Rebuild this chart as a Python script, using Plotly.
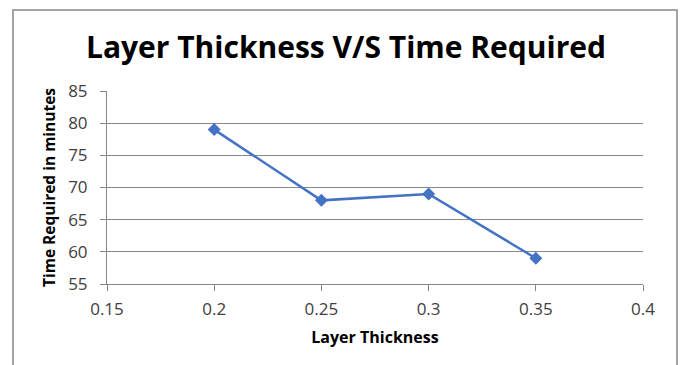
import plotly.graph_objects as go

thickness = [0.2, 0.25, 0.3, 0.35]
time_required = [79, 68, 69, 59]
x_ticks = [0.15, 0.2, 0.25, 0.3, 0.35, 0.4]
x_tick_labels = ["0.15", "0.2", "0.25", "0.3", "0.35", "0.4"]
y_ticks = [55, 60, 65, 70, 75, 80, 85]

W, H = 686, 365
L, R, T, B = 107, 43, 91, 81
pw, ph = W - L - R, H - T - B

fig = go.Figure()
fig.add_trace(go.Scatter(
    x=thickness, y=time_required, mode="lines+markers",
    line=dict(color="#4472C4", width=2.5),
    marker=dict(symbol="diamond", size=10, color="#4472C4"),
    showlegend=False,
))

def px_x(p):
    return (p - L) / pw

def px_y(p):
    return (H - B - p) / ph

fig.add_shape(type="rect", xref="paper", yref="paper",
              x0=px_x(13), x1=px_x(677), y0=px_y(375), y1=px_y(10),
              line=dict(color="#878787", width=1.5), fillcolor="rgba(0,0,0,0)", layer="below")

gray = "#878787"
fig.update_layout(
    width=W, height=H,
    margin=dict(l=L, r=R, t=T, b=B),
    paper_bgcolor="white", plot_bgcolor="white",
    title=dict(text="<b>Layer Thickness V/S Time Required</b>", x=(346) / W, xanchor="center",
               y=1 - 47 / H, yanchor="middle",
               font=dict(family="Open Sans", size=30, color="black")),
    font=dict(family="Open Sans", color="#404040"),
    xaxis=dict(range=[0.15, 0.4], tickvals=x_ticks, ticktext=x_tick_labels,
               showgrid=False, showline=True, linecolor=gray, linewidth=1,
               ticks="outside", ticklen=6, tickcolor=gray, zeroline=False,
               ticklabelstandoff=4,
               tickfont=dict(size=17, color="#404040", family="Open Sans"),
               title=dict(text="<b>Layer Thickness</b>", standoff=12,
                          font=dict(size=16, color="black", family="Open Sans"))),
    yaxis=dict(range=[55, 85], tickvals=y_ticks,
               showgrid=True, gridcolor=gray, gridwidth=1,
               showline=True, linecolor=gray, linewidth=1,
               ticks="outside", ticklen=6, tickcolor=gray, zeroline=False,
               ticklabelstandoff=9,
               tickfont=dict(size=17, color="#404040", family="Open Sans"),
               title=dict(text="<b>Time Required in minutes</b>", standoff=8,
                          font=dict(size=15.5, color="black", family="Open Sans"))),
)

fig.write_html("out.html")
